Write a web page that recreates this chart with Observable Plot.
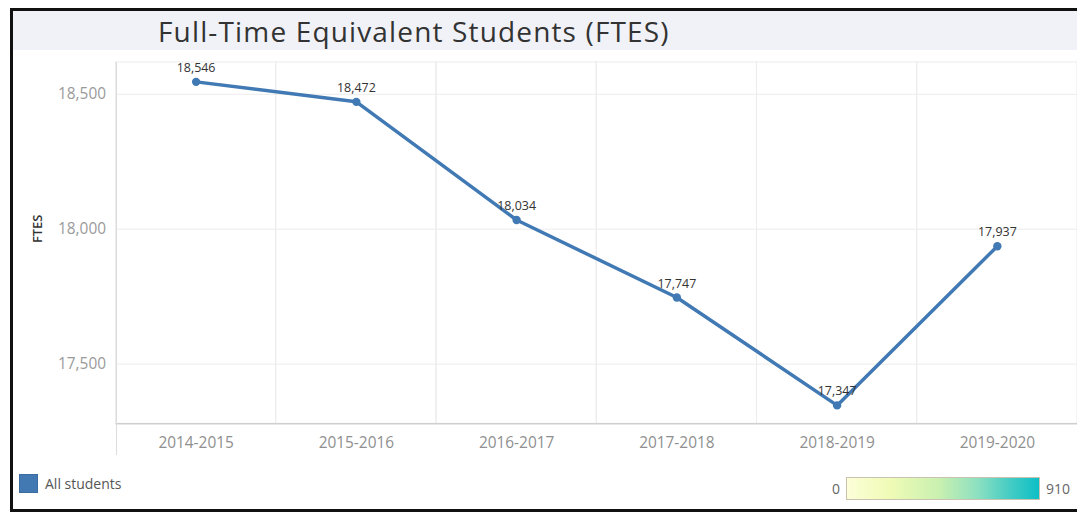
<!DOCTYPE html>
<html>
<head>
<meta charset="utf-8">
<script src="https://cdn.jsdelivr.net/npm/d3@7"></script>
<script src="https://cdn.jsdelivr.net/npm/@observablehq/plot@0.6"></script>
<style>
  html, body { margin: 0; padding: 0; background: #fff; }
  #root { position: relative; width: 1077px; height: 512px; overflow: hidden; font-family: "Open Sans", Lato, sans-serif; }
  #border { position: absolute; left: 10px; top: 8px; width: 1090px; height: 504px; border: 3px solid #111; box-sizing: border-box; }
  #titleband { position: absolute; left: 13px; top: 11px; width: 1070px; height: 39px; background: #f1f2f7; }
  #title { position: absolute; left: 158px; top: 12px; font-size: 28px; letter-spacing: 1.15px; color: #333; white-space: nowrap; line-height: 38px; }
  #chart { position: absolute; left: 0; top: 50px; }
  #leftline { position: absolute; left: 116px; top: 62px; width: 1px; height: 393px; background: #dcdcdc; }
  #swatch { position: absolute; left: 19px; top: 474px; width: 17px; height: 17px; background: #4279b2; border: 1px solid #3a6ca0; }
  #swlabel { position: absolute; left: 45px; top: 474px; font-size: 14px; color: #555; line-height: 19px; }
  #ramp { position: absolute; left: 846px; top: 477px; width: 194px; height: 23px; box-sizing: border-box; border: 1px solid #c9c2b0;
          background: linear-gradient(to right, #fcfed8 0%, #f0fbb6 22%, #c9f0b0 48%, #8de0c1 68%, #48cdc4 84%, #0cbfc6 100%); }
  #rmin { position: absolute; right: 237px; top: 479px; font-size: 14px; color: #666; line-height: 19px; }
  #rmax { position: absolute; left: 1046px; top: 479px; font-size: 14px; color: #666; line-height: 19px; }
</style>
</head>
<body>
<div id="root">
  <div id="border"></div>
  <div id="titleband"></div>
  <div id="title"></div>
  <div id="chart"></div>
  <div id="leftline"></div>
  <div id="swatch"></div>
  <div id="swlabel"></div>
  <div id="ramp"></div>
  <div id="rmin"></div>
  <div id="rmax"></div>
</div>
<script>
const titleText = "Full-Time Equivalent Students (FTES)";
const years = ["2014-2015", "2015-2016", "2016-2017", "2017-2018", "2018-2019", "2019-2020"];
const ftes = [18546, 18472, 18034, 17747, 17347, 17937];
const yTicks = [17500, 18000, 18500];
const yDomain = [17279, 18618];
const yLabel = "FTES";
const seriesName = "All students";
const rampDomain = [0, 910];

const data = years.map((y, i) => ({year: y, value: ftes[i]}));
const fmt = d3.format(",");
const blue = "#4079b3";

document.getElementById("title").textContent = titleText;
document.getElementById("swlabel").textContent = seriesName;
document.getElementById("rmin").textContent = String(rampDomain[0]);
document.getElementById("rmax").textContent = String(rampDomain[1]);

const chart = Plot.plot({
  width: 1082,
  height: 420,
  marginTop: 12,
  marginBottom: 45,
  marginLeft: 116,
  marginRight: 0,
  style: {fontFamily: '"Open Sans", Lato, sans-serif', background: "transparent", overflow: "visible"},
  x: {type: "band", domain: years, padding: 0},
  y: {domain: yDomain},
  marks: [
    Plot.cell(years, {x: d => d, fill: "none", stroke: "#ececec", inset: 0}),
    Plot.gridY(yTicks, {stroke: "#ececec", strokeOpacity: 1}),
    Plot.ruleY([yDomain[0]], {stroke: "#cfcfcf", strokeWidth: 1.5}),
    Plot.axisY(yTicks, {tickSize: 0, tickPadding: 10, tickFormat: fmt, fontSize: 15.5, fill: "#9a9a9a", label: null}),
    Plot.axisX({tickSize: 0, tickPadding: 13, fontSize: 15.5, fill: "#8f8f8f", label: null}),
    Plot.text([yLabel], {frameAnchor: "left", dx: -78, rotate: -90, fontSize: 13, fontWeight: 600, fill: "#333"}),
    Plot.line(data, {x: "year", y: "value", stroke: blue, strokeWidth: 3.5}),
    Plot.dot(data, {x: "year", y: "value", r: 4.2, fill: blue, stroke: "none"}),
    Plot.text(data, {x: "year", y: "value", text: d => fmt(d.value), dy: -14, fontSize: 12.5, fill: "#333"})
  ]
});
document.getElementById("chart").appendChild(chart);
</script>
</body>
</html>
